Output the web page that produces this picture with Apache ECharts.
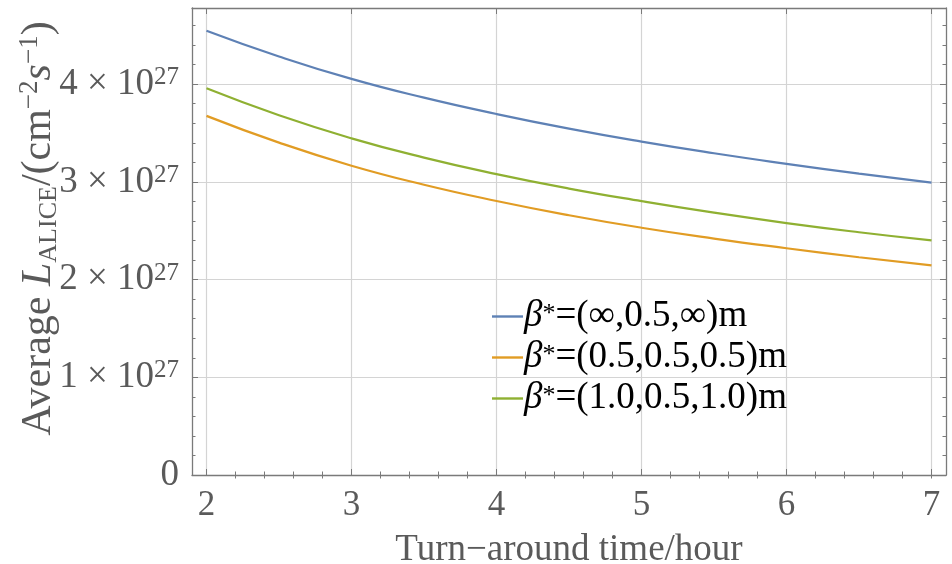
<!DOCTYPE html>
<html>
<head>
<meta charset="utf-8">
<script src="https://cdn.jsdelivr.net/npm/echarts@6/dist/echarts.min.js"></script>
<style>
html,body{margin:0;padding:0;background:#fff;}
#chart{width:952px;height:564px;}
</style>
</head>
<body>
<div id="chart"></div>
<script>
// Turn-around time (hours)
const turnaround = [2, 2.5, 3, 3.5, 4, 4.5, 5, 5.5, 6, 6.5, 7];
// Average luminosity in units of 1e27 cm^-2 s^-1
const betaInf = [4.548, 4.284, 4.054, 3.862, 3.695, 3.545, 3.412, 3.293, 3.185, 3.084, 2.992];
const beta05 = [3.676, 3.402, 3.166, 2.971, 2.805, 2.659, 2.531, 2.420, 2.321, 2.229, 2.145];
const beta10 = [3.958, 3.682, 3.446, 3.249, 3.080, 2.932, 2.803, 2.685, 2.579, 2.485, 2.401];
const seriesNames = ['β*=(∞,0.5,∞)m', 'β*=(0.5,0.5,0.5)m', 'β*=(1.0,0.5,1.0)m'];
// tick values
const xMajorTicks = [2, 3, 4, 5, 6, 7];
const xMinorTicks = [2.2, 2.4, 2.6, 2.8, 3.2, 3.4, 3.6, 3.8, 4.2, 4.4, 4.6, 4.8, 5.2, 5.4, 5.6, 5.8, 6.2, 6.4, 6.6, 6.8, 7.0];
const yExponent = 27;

const serif = '"Liberation Serif", "DejaVu Serif", serif';
const labelColor = '#5a5a5a';
const frameColor = '#7a7a7a';
const gridColor = '#d4d4d4';
const colors = ['#5e81b5', '#e19c24', '#8fb032'];

function pairs(xs, ys) { return xs.map((x, i) => [x, ys[i]]); }

const chart = echarts.init(document.getElementById('chart'), null, {renderer: 'canvas'});

const baseX = {
  type: 'value', min: 1.9, max: 7.1, gridIndex: 0,
  axisLine: {show: true, onZero: false, lineStyle: {color: frameColor, width: 1.3}},
  splitLine: {show: false},
  axisLabel: {show: false},
  axisTick: {show: false}
};

const option = {
  backgroundColor: '#fff',
  animation: false,
  color: colors,
  grid: {left: 192, right: 6, top: 8, bottom: 89, containLabel: false, outerBoundsMode: 'none'},
  legend: {
    orient: 'vertical', left: 487, top: 293, itemGap: 4,
    itemWidth: 31, itemHeight: 2.4, icon: 'rect',
    data: seriesNames,
    formatter: function (name) {
      const rest = name.slice(2);
      return '{b|β}{s|*}{t|' + rest + '}';
    },
    textStyle: {
      padding: [0, 0, 0, -4],
      rich: {
        b: {fontFamily: serif, fontStyle: 'italic', fontSize: 37, color: '#000', lineHeight: 31},
        s: {fontFamily: serif, fontSize: 26, color: '#000', verticalAlign: 'top', lineHeight: 18},
        t: {fontFamily: serif, fontSize: 37, color: '#000', lineHeight: 31}
      }
    }
  },
  xAxis: [
    Object.assign({}, baseX, {
      position: 'bottom',
      name: 'Turn\u2212around time/hour',
      nameLocation: 'middle', nameGap: 57, nameMoveOverlap: false,
      nameTextStyle: {fontFamily: serif, fontSize: 37, color: labelColor},
      axisTick: {show: true, inside: true, length: 6, customValues: xMajorTicks, lineStyle: {color: frameColor}},
      axisLabel: {show: true, customValues: xMajorTicks, fontFamily: serif, fontSize: 35, color: labelColor, margin: 13},
      splitLine: {show: true, lineStyle: {color: gridColor, width: 1.2}}
    }),
    Object.assign({}, baseX, {
      position: 'top',
      axisTick: {show: true, inside: true, length: 6, customValues: xMajorTicks, lineStyle: {color: frameColor}}
    }),
    Object.assign({}, baseX, {
      position: 'bottom',
      axisLine: {show: false},
      axisTick: {show: true, inside: true, length: 3.5, customValues: xMinorTicks, lineStyle: {color: frameColor}}
    }),
    Object.assign({}, baseX, {
      position: 'top',
      axisLine: {show: false},
      axisTick: {show: true, inside: true, length: 3.5, customValues: xMinorTicks, lineStyle: {color: frameColor}}
    })
  ],
  yAxis: [
    {
      type: 'value', min: 0, max: 4.78, interval: 1, position: 'left',
      axisLine: {show: true, lineStyle: {color: frameColor, width: 1.3}},
      axisTick: {show: true, inside: true, length: 6, lineStyle: {color: frameColor}},
      minorTick: {show: true, splitNumber: 5, length: 3.5, lineStyle: {color: frameColor}},
      splitLine: {show: true, showMaxLine: false, lineStyle: {color: gridColor, width: 1.2}},
      axisLabel: {
        margin: 13, showMaxLabel: false,
        formatter: function (v) {
          if (v === 0) return '{n|0}';
          return '{n|' + v + ' \u00d7 10}{s|' + yExponent + '}';
        },
        rich: {
          n: {fontFamily: serif, fontSize: 37, color: labelColor, lineHeight: 38},
          s: {fontFamily: serif, fontSize: 25, color: labelColor, verticalAlign: 'top', lineHeight: 20}
        }
      },
      name: '{r|Average }{i|L}{sub|ALICE}{r|/(cm}{sup|\u22122}{i|s}{sup|\u22121}{r|)}',
      nameLocation: 'middle', nameGap: 130, nameRotate: 90, nameMoveOverlap: false,
      nameTextStyle: {
        padding: [0, 0, 0, 26],
        rich: {
          r: {fontFamily: serif, fontSize: 42, color: labelColor, lineHeight: 46},
          i: {fontFamily: serif, fontStyle: 'italic', fontSize: 42, color: labelColor, lineHeight: 46},
          sub: {fontFamily: serif, fontSize: 26, color: labelColor, verticalAlign: 'bottom', lineHeight: 34},
          sup: {fontFamily: serif, fontSize: 27, color: labelColor, verticalAlign: 'top', lineHeight: 20}
        }
      }
    },
    {
      type: 'value', min: 0, max: 4.78, interval: 1, position: 'right',
      axisLine: {show: true, lineStyle: {color: frameColor, width: 1.3}},
      axisTick: {show: true, inside: true, length: 6, lineStyle: {color: frameColor}},
      minorTick: {show: true, splitNumber: 5, length: 3.5, lineStyle: {color: frameColor}},
      splitLine: {show: false},
      axisLabel: {show: false}
    }
  ],
  series: [
    {name: seriesNames[0], type: 'line', smooth: true, showSymbol: false, data: pairs(turnaround, betaInf), lineStyle: {width: 2.2}},
    {name: seriesNames[1], type: 'line', smooth: true, showSymbol: false, data: pairs(turnaround, beta05), lineStyle: {width: 2.2}},
    {name: seriesNames[2], type: 'line', smooth: true, showSymbol: false, data: pairs(turnaround, beta10), lineStyle: {width: 2.2}}
  ]
};
chart.setOption(option);
</script>
</body>
</html>
